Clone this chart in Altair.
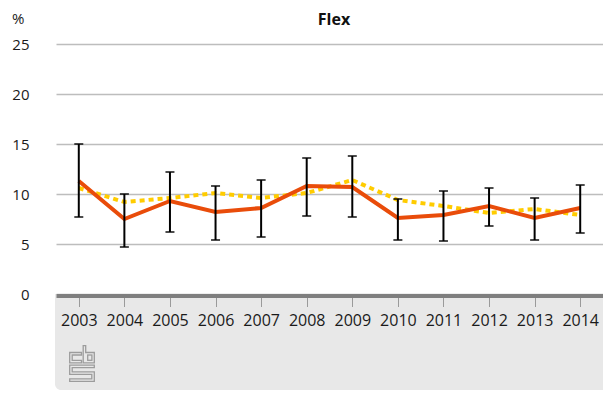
import altair as alt
import pandas as pd
from urllib.parse import quote

# ---- data ----
years = [str(y) for y in range(2003, 2015)]
flex = [11.3, 7.5, 9.3, 8.2, 8.6, 10.8, 10.7, 7.6, 7.9, 8.8, 7.6, 8.6]
trend = [10.6, 9.2, 9.6, 10.1, 9.6, 10.1, 11.4, 9.4, 8.8, 8.1, 8.5, 7.9]
err_low = [7.7, 4.7, 6.2, 5.4, 5.7, 7.8, 7.7, 5.4, 5.3, 6.8, 5.4, 6.1]
err_high = [15.0, 10.0, 12.2, 10.8, 11.4, 13.6, 13.8, 9.5, 10.3, 10.6, 9.6, 10.9]
y_ticks = [0, 5, 10, 15, 20, 25]
title_text = "Flex"
unit_text = "%"

df = pd.DataFrame({"jaar": years, "flex": flex, "trend": trend,
                   "lo": err_low, "hi": err_high})

W, H = 547, 250
FONT = "Open Sans"

xscale = alt.Scale(type="point", domain=years, padding=0.5)
yscale = alt.Scale(domain=[0, 25], nice=False)

xaxis = alt.Axis(title=None, labelAngle=0, labelFont=FONT, labelFontSize=16,
                 labelColor="#1a1a1a", domainColor="#7f7f7f", domainWidth=4,
                 offset=1.5, tickColor="#9a9a9a", tickWidth=1, tickSize=11,
                 labelPadding=6, grid=False, zindex=1)
yaxis = alt.Axis(title=None, values=y_ticks, labelFont=FONT, labelFontSize=15,
                 labelColor="#1a1a1a", domain=False, ticks=False, labelPadding=27,
                 grid=True, gridColor="#bdbdbd", gridWidth=1.5)

X = alt.X("jaar:N", scale=xscale, axis=xaxis, sort=years)

base = alt.Chart(df)
one = alt.Chart(alt.Data(values=[{"k": 1}]))

panel = one.mark_rect(color="#e8e8e8", cornerRadiusBottomLeft=6, clip=False).encode(
    x=alt.value(-1), x2=alt.value(W), y=alt.value(H), y2=alt.value(346))

line_trend = base.mark_line(color="#ffcc00", strokeWidth=4, strokeDash=[5, 4]).encode(
    x=X, y=alt.Y("trend:Q", scale=yscale, axis=yaxis))
line_flex = base.mark_line(color="#e94c0a", strokeWidth=4).encode(
    x=X, y=alt.Y("flex:Q", scale=yscale, axis=yaxis))

rules = base.mark_rule(color="black", strokeWidth=2).encode(
    x=X, y=alt.Y("lo:Q", scale=yscale, axis=yaxis), y2="hi:Q")
caps_lo = base.mark_tick(color="black", size=9, thickness=2).encode(
    x=X, y=alt.Y("lo:Q", scale=yscale, axis=yaxis))
caps_hi = base.mark_tick(color="black", size=9, thickness=2).encode(
    x=X, y=alt.Y("hi:Q", scale=yscale, axis=yaxis))

logo_svg = (
    "<svg xmlns='http://www.w3.org/2000/svg' width='26' height='37' viewBox='0 0 26 37'>"
    "<g fill='none' stroke='#9c9c9c' stroke-width='1.3'>"
    "<path d='M12.5 7.5 H0.7 V17.8 H12.5 V15.3 H3.2 V10 H12.5 Z'/>"
    "<path d='M14.2 0.7 H16.7 V7.5 H25.3 V17.8 H14.2 Z'/>"
    "<rect x='18.7' y='10' width='4.2' height='5.3'/>"
    "<path d='M25.3 20.2 H0.7 V29.3 H22.8 V33.8 H0.7 V36.3 H25.3 V26.8 H3.2 V22.7 H25.3 Z'/>"
    "</g></svg>"
)
logo = one.mark_image(width=26, height=37, align="left", baseline="top").encode(
    x=alt.value(13), y=alt.value(301),
    url=alt.value("data:image/svg+xml;utf8," + quote(logo_svg)))

title = one.mark_text(text=title_text, font=FONT, fontSize=16, fontWeight="bold",
                      color="#111111", align="center", baseline="top").encode(
    x=alt.value(278), y=alt.value(-32))
unit = one.mark_text(text=unit_text, font=FONT, fontSize=15, color="#1a1a1a",
                     align="left", baseline="top").encode(
    x=alt.value(-44), y=alt.value(-32))

chart = alt.layer(panel, line_trend, line_flex, rules, caps_lo, caps_hi,
                  logo, title, unit).properties(
    width=W, height=H,
    autosize=alt.AutoSizeParams(type="none"),
    padding={"left": 48, "top": 36, "right": 0, "bottom": 98},
    background="white",
).configure_view(strokeWidth=0)

chart.save("out.html", embed_options={"renderer": "svg", "actions": False})
